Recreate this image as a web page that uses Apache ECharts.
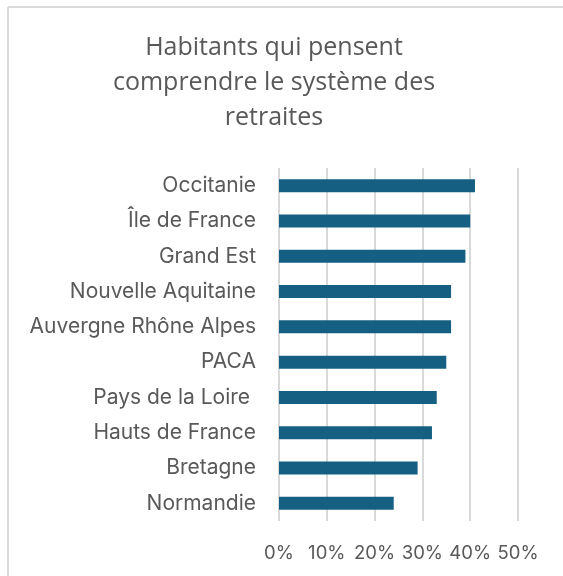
<!DOCTYPE html>
<html>
<head>
<meta charset="utf-8">
<script src="https://cdn.jsdelivr.net/npm/echarts@6/dist/echarts.min.js"></script>
<style>
  html, body { margin: 0; padding: 0; background: #fff; }
  #chart { width: 563px; height: 576px; }
</style>
</head>
<body>
<div id="chart"></div>
<script>
// Regions, bottom to top as ECharts draws a category y axis
var regions = ['Normandie', 'Bretagne', 'Hauts de France', 'Pays de la Loire ', 'PACA',
  'Auvergne Rhône Alpes', 'Nouvelle Aquitaine', 'Grand Est', 'Île de France', 'Occitanie'];
// Share of inhabitants (%)
var shares = [24, 29, 32, 33, 35, 36, 36, 39, 40, 41];
var titleText = 'Habitants qui pensent\ncomprendre le système des\nretraites';

var textColor = '#595959';
var titleFont = '"Open Sans", Lato, sans-serif';
var labelFont = 'Inter, "Open Sans", sans-serif';

var myChart = echarts.init(document.getElementById('chart'));

var options = {
  backgroundColor: '#fff',
  animation: false,
  textStyle: { fontFamily: labelFont },
  title: {
    text: titleText,
    left: 269,
    top: 25,
    textAlign: 'center',
    textStyle: {
      color: textColor,
      fontSize: 25,
      fontWeight: 'normal',
      lineHeight: 35,
      fontFamily: titleFont
    }
  },
  // Chart border (only left & top visible in the crop)
  graphic: [
    { type: 'line', shape: { x1: 8, y1: 7, x2: 8, y2: 576 }, style: { stroke: '#d9d9d9', lineWidth: 2 } },
    { type: 'line', shape: { x1: 8, y1: 7, x2: 563, y2: 7 }, style: { stroke: '#d9d9d9', lineWidth: 2 } }
  ],
  grid: {
    left: 279,
    right: 45,
    top: 168,
    bottom: 55,
    containLabel: false
  },
  xAxis: {
    type: 'value',
    min: 0,
    max: 50,
    interval: 10,
    axisLine: { show: false },
    axisTick: { show: false },
    axisLabel: {
      color: textColor,
      fontSize: 18.5,
      margin: 23,
      fontFamily: labelFont,
      formatter: '{value}%'
    },
    splitLine: { lineStyle: { color: '#d9d9d9', width: 2 } }
  },
  yAxis: {
    type: 'category',
    data: regions,
    axisLine: { show: false },
    axisTick: { show: false },
    axisLabel: {
      color: textColor,
      fontSize: 21,
      margin: 23,
      fontFamily: labelFont
    }
  },
  series: [{
    type: 'bar',
    data: shares,
    barWidth: 13,
    itemStyle: { color: '#156082' }
  }]
};

myChart.setOption(options);
</script>
</body>
</html>
